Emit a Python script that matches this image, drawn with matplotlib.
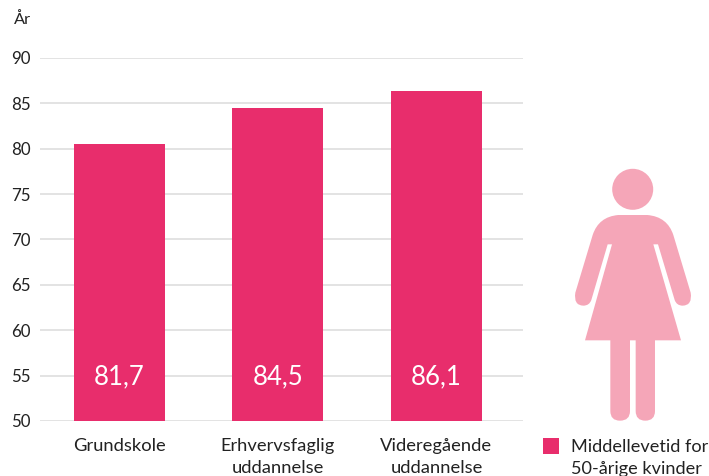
import matplotlib
matplotlib.use("Agg")
import matplotlib.pyplot as plt
from matplotlib.path import Path
from matplotlib.patches import PathPatch, Circle, Rectangle

plt.rcParams['font.family'] = ['Lato', 'DejaVu Sans']

W, H = 709, 476
PINK = "#E82D6C"
LIGHT = "#F5A6B8"
TXT = "#222222"

# Data
categories = ["Grundskole", "Erhvervsfaglig\nuddannelse", "Videregående\nuddannelse"]
bar_heights = [80.5, 84.5, 86.4]
bar_labels = ["81,7", "84,5", "86,1"]
y_ticks = [50, 55, 60, 65, 70, 75, 80, 85, 90]
legend_text = "Middellevetid for\n50-årige kvinder"

fig = plt.figure(figsize=(W / 100, H / 100), dpi=100)
ax = fig.add_axes([40 / W, 1 - 421 / H, 483 / W, 363 / H])
x = range(len(categories))
ax.bar(x, bar_heights, width=0.574, color=PINK, zorder=3)
ax.set_xlim(-0.5016, 2.546)
ax.set_ylim(50, 90)
ax.set_yticks(y_ticks)
ax.set_xticks(list(x))
ax.set_xticklabels(categories, linespacing=1.4)
ax.tick_params(axis="both", length=0, labelcolor=TXT)
ax.tick_params(axis="x", pad=12.5, labelsize=13.2)
ax.tick_params(axis="y", pad=6.5, labelsize=12.2)
ax.grid(axis="y", color="#DEDEDE", linewidth=1.2, zorder=0)
ax.set_axisbelow(True)
for s in ax.spines.values():
    s.set_visible(False)
for i, lab in zip(x, bar_labels):
    ax.text(i, 54.9, lab, color="white", fontsize=18.5, ha="center", va="center", zorder=4)

# overlay in pixels for icon and legend
ov = fig.add_axes([0, 0, 1, 1], zorder=5)
ov.set_xlim(0, W)
ov.set_ylim(H, 0)
ov.axis("off")


def z(px, py):
    return (530 + px / 3, 160 + py / 3)


M, L, C3, Z = Path.MOVETO, Path.LINETO, Path.CURVE3, Path.CLOSEPOLY
body = [
    (M, 265, 165), (L, 352, 165),
    (C3, 412, 170), (C3, 430, 225),
    (L, 482, 398),
    (C3, 488, 436), (C3, 458, 437),
    (C3, 440, 437), (C3, 434, 420),
    (L, 384, 253), (L, 370, 253),
    (L, 453, 541), (L, 375, 541),
    (L, 375, 753),
    (C3, 375, 782), (C3, 346, 782),
    (C3, 317, 782), (C3, 317, 753),
    (L, 317, 541), (L, 300, 541),
    (L, 300, 753),
    (C3, 300, 782), (C3, 270, 782),
    (C3, 241, 782), (C3, 241, 753),
    (L, 241, 541), (L, 165, 541),
    (L, 246, 253), (L, 233, 253),
    (L, 184, 420),
    (C3, 178, 437), (C3, 160, 437),
    (C3, 130, 436), (C3, 136, 398),
    (L, 188, 225),
    (C3, 206, 170), (C3, 265, 165),
    (Z, 265, 165),
]
codes = [b[0] for b in body]
verts = [z(b[1], b[2]) for b in body]
ov.add_patch(PathPatch(Path(verts, codes), facecolor=LIGHT, edgecolor="none"))
ov.add_patch(Circle((632.7, 189.3), 20.5, facecolor=LIGHT, edgecolor="none"))

ov.add_patch(Rectangle((543, 438), 16, 16, facecolor=PINK, edgecolor="none"))
ov.text(571, 458, legend_text, fontsize=13.1, color=TXT, ha="left", va="center", linespacing=1.4)
ov.text(14, 20, "År", fontsize=11.8, color=TXT, ha="left", va="center")

fig.savefig("out.png", dpi=100)
